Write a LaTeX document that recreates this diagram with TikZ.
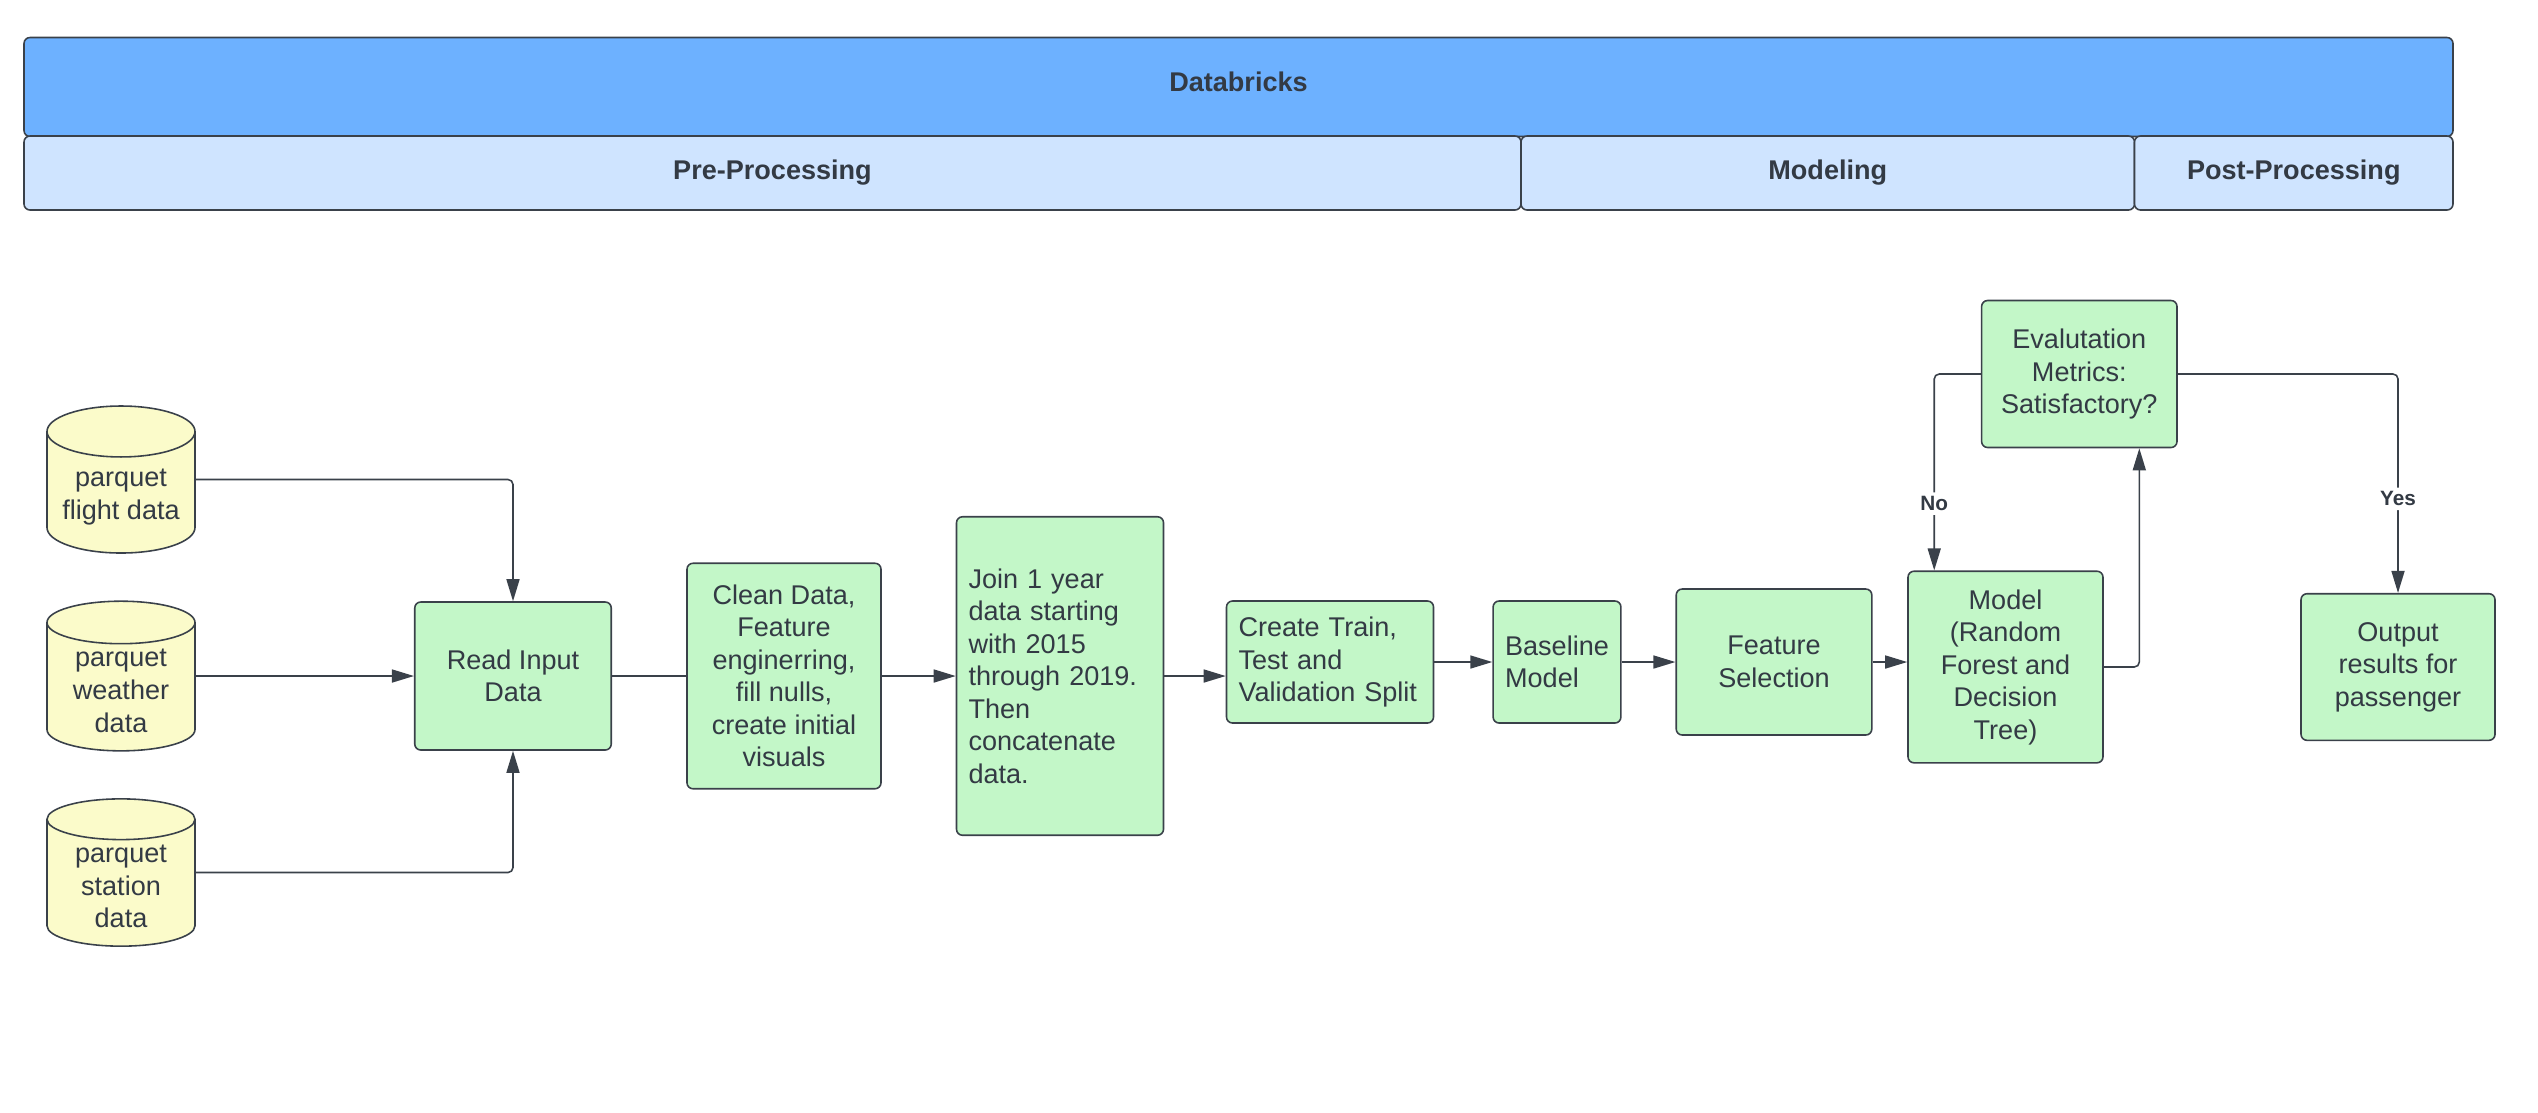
\documentclass[tikz,border=0pt]{standalone}
\usepackage{fontspec}
\setmainfont{Liberation Sans}
\usetikzlibrary{shapes.geometric, arrows.meta, positioning}
\definecolor{headblue}{HTML}{6DB1FF}
\definecolor{phaseblue}{HTML}{CFE4FF}
\definecolor{stepgreen}{HTML}{C3F7C8}
\definecolor{datayellow}{HTML}{FBFBCA}
\definecolor{linegray}{HTML}{3A414A}
\definecolor{textdark}{HTML}{333A44}

\begin{document}
\begin{tikzpicture}[x=0.1mm, y=-0.1mm,
  header/.style={rectangle, draw=linegray, line width=0.45pt, fill=headblue, rounded corners=0.6mm, minimum height=9.9mm, text depth=1mm, font=\fontsize{7.7}{9.25}\selectfont\bfseries, text=textdark},
  phase/.style={rectangle, draw=linegray, line width=0.45pt, fill=phaseblue, rounded corners=0.6mm, minimum height=7.4mm, font=\fontsize{7.7}{9.25}\selectfont\bfseries, text=textdark},
  process/.style={rectangle, draw=linegray, line width=0.45pt, fill=stepgreen, rounded corners=0.6mm, align=center, inner xsep=1.2mm, font=\fontsize{7.7}{9.25}\selectfont, text=textdark},
  data/.style={cylinder, shape border rotate=90, aspect=0.4, draw=linegray, line width=0.45pt, fill=datayellow, minimum width=14.8mm, minimum height=14.7mm, align=center, inner sep=0.5mm, font=\fontsize{7.7}{9.25}\selectfont, text=textdark},
  conn/.style={draw=linegray, line width=0.45pt, rounded corners=0.5mm},
  arrow/.style={conn, -{Triangle[length=2.2mm, width=1.3mm]}},
  answer/.style={fill=white, inner sep=0.4mm, font=\fontsize{5.9}{7}\selectfont\bfseries, text=textdark}
]
  \useasboundingbox (0,0) rectangle (2538,1112);

  % Platform and phases
  \node[header, minimum width=242.9mm] (databricks) at (1238.5, 87) {Databricks};
  \node[phase, minimum width=149.7mm] (pre) at (772.5, 173) {Pre-Processing};
  \node[phase, minimum width=61.35mm] (modeling) at (1827.75, 173) {Modeling};
  \node[phase, minimum width=31.85mm] (post) at (2293.75, 173) {Post-Processing};

  % Data sources
  \node[data, anchor=shape center] (flight) at (121, 479.5) {parquet\\flight data};
  \node[data, anchor=shape center] (weather) at (121, 676) {parquet\\weather\\data};
  \node[data, anchor=shape center] (station) at (121, 872.5) {parquet\\station\\data};

  % Processing steps
  \node[process, minimum width=19.65mm, minimum height=14.8mm] (read) at (513, 676) {Read Input\\Data};
  \node[process, minimum width=19.4mm, minimum height=22.55mm] (clean) at (784, 676) {Clean Data,\\Feature\\enginerring,\\fill nulls,\\create initial\\visuals};
  \node[process, align=left, text width=18.3mm, minimum height=31.85mm] (join) at (1060, 676) {Join 1 year\\data starting\\with 2015\\through 2019.\\Then\\concatenate\\data.};
  \node[process, align=left, text width=18.3mm, minimum height=12.2mm] (split) at (1330, 662) {Create Train,\\Test and\\Validation Split};
  \node[process, align=left, minimum width=12.2mm, minimum height=12.2mm] (baseline) at (1557, 662) {Baseline\\Model};
  \node[process, minimum width=19.56mm, minimum height=14.6mm] (feature) at (1774, 662) {Feature\\Selection};
  \node[process, minimum width=19.5mm, minimum height=19.16mm] (model) at (2005.5, 667) {Model\\(Random\\Forest and\\Decision\\Tree)};
  \node[process, minimum width=19.54mm, minimum height=14.7mm] (eval) at (2079.3, 374) {Evalutation\\Metrics:\\Satisfactory?};
  \node[process, minimum width=19.4mm, minimum height=14.66mm] (output) at (2398, 667) {Output\\results for\\passenger};

  % Inputs
  \draw[arrow] (flight.shape center -| flight.east) -| (read.north);
  \draw[arrow] (weather.shape center -| weather.east) -- (read.west);
  \draw[arrow] (station.shape center -| station.east) -| (read.south);

  % Main flow
  \draw[conn] (read) -- (clean);
  \draw[arrow] (clean) -- (join);
  \draw[arrow] (join.east) -- (join.east -| split.west);
  \draw[arrow] (split) -- (baseline);
  \draw[arrow] (baseline) -- (feature);
  \draw[arrow] (feature.east) -- (feature.east -| model.west);

  % Evaluation loop
  \draw[arrow] (model.east) -| ([xshift=6mm]eval.south);
  \draw[arrow] (eval.west) -| node[answer, pos=0.83] {No} ([xshift=2.7mm]model.north west);
  \draw[arrow] (eval.east) -| node[answer, pos=0.785] {Yes} (output.north);
\end{tikzpicture}
\end{document}
